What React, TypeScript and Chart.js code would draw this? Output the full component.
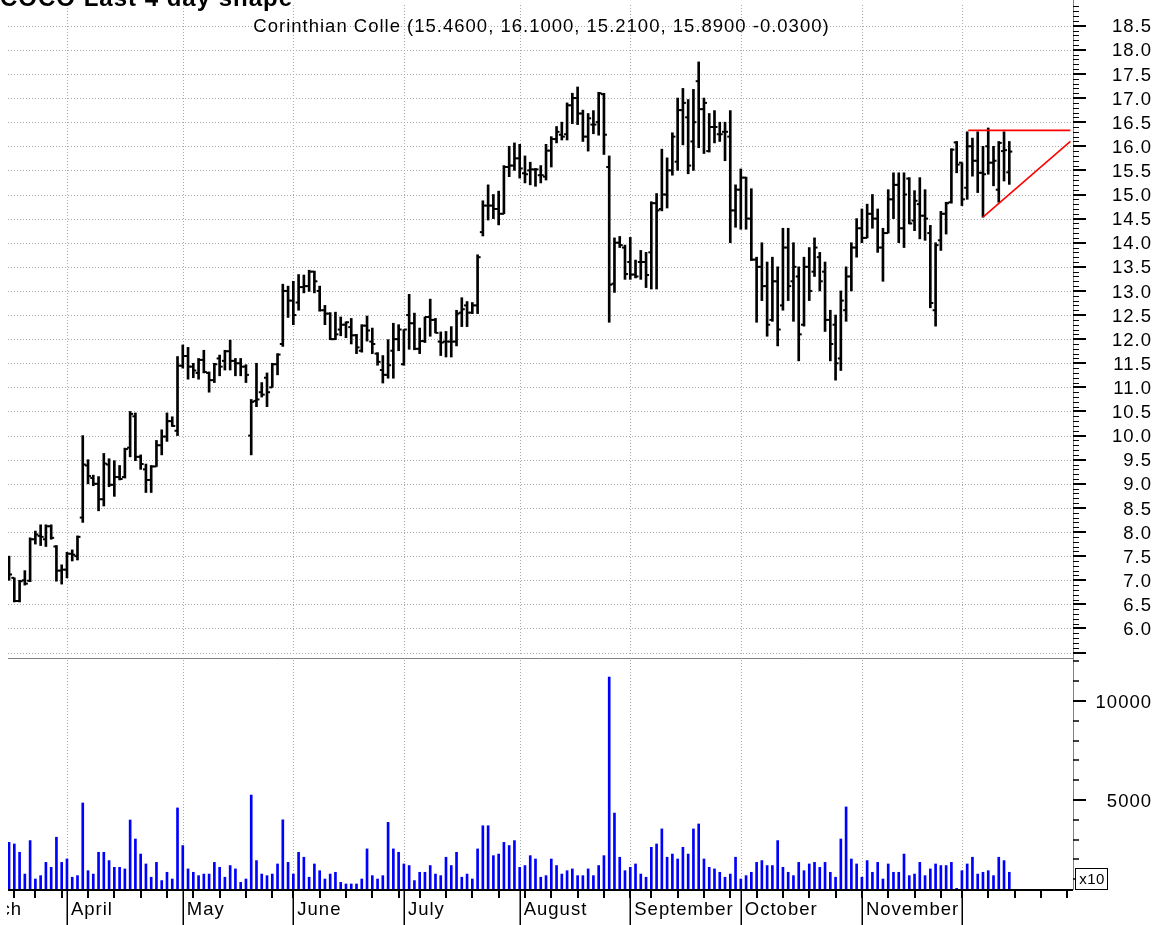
import React, { useEffect, useRef } from 'react';
import { Chart, registerables } from 'chart.js';

Chart.register(...registerables);

const FONT_FAMILY = '"Liberation Sans", Arial, Helvetica, sans-serif';

const titleText = 'COCO Last 4 day shape';
const subtitleText = 'Corinthian Colle (15.4600, 16.1000, 15.2100, 15.8900 -0.0300)';

// trading day index 0 = 2008-03-14 ... 190 = 2008-12-12
const opens = [
  7.40, 7.05, 6.57, 7.00, 6.99, 7.85, 7.92, 7.85, 8.12, 7.70,
  7.20, 7.22, 7.55, 7.50, 8.30, 9.38, 9.12, 9.00, 8.68, 9.40,
  8.98, 9.14, 9.14, 9.75, 10.40, 9.56, 9.30, 9.08, 9.36, 9.80,
  9.98, 10.30, 10.10, 11.45, 11.65, 11.43, 11.30, 11.57, 11.30, 11.15,
  11.60, 11.55, 11.75, 11.55, 11.50, 11.43, 10.00, 10.72, 10.90, 11.20,
  11.00, 11.48, 11.90, 13.00, 12.80, 12.76, 13.08, 13.10, 13.40, 13.00,
  12.60, 12.53, 12.00, 12.20, 12.30, 12.25, 12.08, 11.76, 12.28, 11.95,
  11.70, 11.36, 11.26, 11.76, 12.00, 11.48, 12.50, 12.33, 11.80, 11.96,
  12.46, 12.40, 11.95, 11.95, 11.95, 11.95, 12.55, 12.70, 12.55, 12.70,
  14.22, 14.77, 14.77, 14.70, 14.60, 15.57, 15.60, 15.75, 15.44, 15.50,
  15.52, 15.40, 15.37, 15.91, 16.15, 16.24, 16.25, 16.85, 17.00, 16.68,
  16.20, 16.45, 16.50, 17.08, 15.57, 13.15, 14.00, 13.90, 13.60, 13.34,
  13.60, 13.60, 13.80, 14.82, 14.70, 15.00, 15.50, 15.68, 16.75, 16.60,
  16.10, 17.35, 16.77, 15.90, 16.40, 16.25, 16.30, 16.20, 14.67, 15.10,
  15.35, 14.50, 13.65, 13.50, 13.10, 12.40, 13.20, 12.70, 13.90, 13.20,
  13.30, 12.30, 13.50, 13.40, 13.70, 13.40, 12.40, 12.30, 11.60, 12.60,
  13.30, 13.90, 14.30, 14.10, 14.60, 14.50, 13.90, 14.20, 14.90, 15.20,
  14.30, 15.33, 14.46, 14.80, 14.56, 14.20, 12.60, 14.05, 14.60, 14.84,
  16.08, 15.66, 15.14, 16.00, 15.70, 15.45, 16.00, 15.66, 15.10, 15.90,
  15.46,
];

const highs = [
  7.50, 7.05, 7.00, 7.20, 7.88, 8.02, 8.15, 8.15, 8.15, 7.72,
  7.32, 7.58, 7.63, 7.92, 10.00, 9.50, 9.18, 9.15, 9.63, 9.52,
  9.48, 9.38, 9.74, 10.50, 10.47, 9.60, 9.41, 9.38, 9.90, 10.12,
  10.47, 10.39, 11.64, 11.88, 11.83, 11.50, 11.60, 11.77, 11.32, 11.50,
  11.67, 11.77, 11.98, 11.60, 11.60, 11.47, 10.75, 11.50, 11.10, 11.30,
  11.50, 11.70, 13.14, 13.10, 13.20, 13.34, 13.33, 13.43, 13.41, 13.10,
  12.70, 12.55, 12.56, 12.46, 12.36, 12.43, 12.10, 12.30, 12.48, 12.23,
  11.72, 11.66, 11.99, 12.33, 12.30, 12.20, 12.93, 12.54, 12.23, 12.46,
  12.83, 12.43, 12.15, 12.16, 12.26, 12.60, 12.86, 12.78, 12.76, 13.75,
  14.87, 15.20, 15.00, 15.07, 15.60, 16.00, 16.07, 16.04, 15.80, 15.67,
  15.54, 15.60, 16.04, 16.20, 16.41, 16.50, 16.90, 17.10, 17.23, 16.75,
  16.68, 16.74, 17.12, 17.10, 15.80, 14.10, 14.13, 13.95, 14.11, 13.64,
  13.84, 13.80, 14.85, 15.02, 15.94, 15.76, 16.28, 17.00, 17.20, 16.97,
  17.18, 17.75, 17.00, 16.68, 16.74, 16.50, 16.50, 16.74, 15.20, 15.53,
  15.36, 15.12, 13.70, 14.00, 13.60, 13.70, 13.50, 14.30, 14.30, 14.00,
  13.50, 13.70, 13.90, 14.10, 13.80, 13.60, 12.60, 12.50, 13.00, 13.50,
  14.00, 14.50, 14.70, 14.80, 15.00, 14.70, 14.30, 15.10, 15.45, 15.45,
  15.45, 15.35, 15.08, 15.35, 15.10, 14.36, 14.00, 14.65, 14.84, 15.95,
  16.10, 15.66, 16.30, 16.17, 16.30, 16.00, 16.38, 16.00, 16.10, 16.30,
  16.10,
];

const lows = [
  7.00, 6.55, 6.55, 6.90, 6.97, 7.75, 7.72, 7.70, 7.85, 6.98,
  6.92, 7.05, 7.40, 7.42, 8.20, 9.00, 8.96, 8.44, 8.54, 8.94,
  8.74, 9.08, 9.12, 9.56, 9.48, 9.30, 8.82, 8.82, 9.36, 9.60,
  9.88, 10.19, 10.00, 11.40, 11.17, 11.20, 11.17, 11.30, 10.90, 11.10,
  11.24, 11.36, 11.36, 11.24, 11.24, 11.10, 9.60, 10.60, 10.80, 10.60,
  11.00, 11.26, 11.85, 12.45, 12.30, 12.60, 12.96, 12.99, 12.96, 12.58,
  12.30, 11.99, 11.99, 12.07, 12.03, 11.90, 11.70, 11.73, 11.96, 11.70,
  11.46, 11.09, 11.19, 11.19, 11.76, 11.46, 11.79, 11.78, 11.70, 11.93,
  12.06, 12.13, 11.66, 11.63, 11.63, 11.86, 12.26, 12.26, 12.53, 12.53,
  14.14, 14.47, 14.50, 14.37, 14.60, 15.37, 15.50, 15.34, 15.24, 15.20,
  15.17, 15.24, 15.30, 15.57, 16.07, 16.13, 16.13, 16.47, 16.45, 16.10,
  15.90, 16.26, 16.23, 15.83, 12.35, 12.97, 13.90, 13.24, 13.24, 13.27,
  13.24, 13.07, 13.04, 13.04, 14.66, 14.72, 15.40, 15.50, 16.03, 15.43,
  15.50, 15.97, 15.85, 15.88, 16.07, 16.10, 15.70, 14.00, 14.32, 14.28,
  14.28, 13.63, 12.35, 12.80, 12.06, 12.37, 11.86, 12.60, 12.80, 12.37,
  11.55, 12.27, 12.80, 13.30, 13.00, 12.16, 11.55, 11.15, 11.35, 12.37,
  13.00, 13.70, 14.00, 14.10, 14.30, 13.80, 13.20, 14.20, 14.50, 14.00,
  13.90, 14.39, 14.25, 14.08, 14.05, 12.65, 12.27, 13.84, 14.18, 14.82,
  15.45, 14.77, 14.90, 15.38, 15.04, 14.53, 15.42, 15.18, 14.84, 15.28,
  15.21,
];

const closes = [
  7.12, 6.57, 6.98, 6.93, 7.85, 7.95, 7.90, 8.12, 7.88, 7.20,
  7.22, 7.55, 7.53, 7.90, 9.40, 9.16, 9.00, 8.68, 9.42, 8.98,
  9.14, 9.10, 9.72, 10.45, 9.56, 9.41, 9.08, 9.36, 9.80, 9.98,
  10.30, 10.20, 11.45, 11.65, 11.43, 11.35, 11.57, 11.32, 11.15, 11.48,
  11.43, 11.75, 11.55, 11.50, 11.43, 11.26, 10.70, 10.75, 10.85, 10.90,
  11.48, 11.68, 13.00, 12.80, 12.50, 13.08, 13.10, 13.40, 13.20, 12.60,
  12.53, 12.00, 12.10, 12.30, 12.35, 12.08, 11.83, 12.28, 12.18, 11.90,
  11.53, 11.26, 11.46, 12.00, 12.20, 12.20, 12.33, 11.80, 11.96, 12.46,
  12.40, 12.13, 11.93, 11.95, 11.95, 12.53, 12.62, 12.55, 12.70, 13.70,
  14.77, 14.77, 14.70, 14.60, 15.57, 15.60, 15.75, 15.54, 15.42, 15.52,
  15.52, 15.40, 15.91, 16.15, 16.30, 16.20, 16.85, 17.00, 16.68, 16.20,
  16.58, 16.45, 17.10, 16.24, 13.13, 14.00, 13.95, 13.35, 13.34, 13.30,
  13.60, 13.33, 14.82, 14.67, 15.00, 15.50, 16.20, 16.75, 16.90, 15.60,
  16.50, 16.77, 16.90, 16.40, 16.40, 16.25, 16.30, 14.67, 15.10, 15.35,
  14.50, 13.65, 13.50, 13.10, 12.30, 13.20, 12.20, 13.90, 13.10, 13.50,
  12.10, 13.50, 13.00, 13.90, 13.20, 12.40, 11.90, 11.50, 12.80, 13.30,
  13.90, 14.30, 14.10, 14.60, 14.50, 13.90, 14.20, 14.90, 15.20, 14.30,
  15.00, 14.40, 14.87, 14.56, 14.50, 12.75, 13.95, 14.60, 14.82, 15.93,
  15.62, 14.90, 16.00, 15.70, 15.45, 15.42, 15.66, 15.70, 16.07, 15.92,
  15.89,
];

const volumes = [
  2860, 2780, 2360, 1260, 2950, 1010, 1180, 1850, 1600, 3120,
  1850, 2020, 1100, 1180, 4850, 1430, 1260, 2360, 2360, 1940,
  1600, 1600, 1520, 3990, 3030, 2270, 1770, 1100, 1850, 930,
  1350, 1010, 4600, 2700, 1520, 1350, 1180, 1260, 1260, 1850,
  1600, 1100, 1690, 1520, 840, 1010, 5250, 1940, 1260, 1180,
  1260, 1770, 4000, 1850, 1260, 2360, 2110, 1100, 1770, 1430,
  1010, 1260, 1350, 840, 760, 760, 760, 1010, 2530, 1180,
  1010, 1180, 3870, 2530, 2360, 1770, 1690, 930, 1350, 1350,
  1690, 1260, 1180, 2110, 1690, 2360, 1100, 1260, 1010, 2530,
  3700, 3700, 2190, 2270, 2860, 2700, 2950, 1600, 1690, 2190,
  2020, 1100, 1180, 2020, 1690, 1260, 1430, 1520, 1180, 1180,
  1520, 1180, 1690, 2190, 11210, 4340, 2110, 1430, 1600, 1770,
  1260, 1100, 2610, 2780, 3540, 2110, 2270, 2020, 2610, 2270,
  3540, 3790, 2020, 1600, 1520, 1350, 1100, 1260, 2110, 1010,
  1180, 1350, 1850, 1940, 1690, 1690, 2950, 1600, 1350, 1180,
  1850, 1430, 1770, 1850, 1600, 1850, 1350, 1100, 3030, 4650,
  2020, 1770, 1100, 1940, 1350, 1850, 1010, 1770, 1350, 1350,
  2270, 1180, 1260, 1850, 1180, 1520, 1770, 1690, 1690, 1850,
  540, 1430, 1770, 2110, 1260, 1350, 1430, 1180, 2110, 1940,
  1350,
];

const monthLabels = ['March', 'April', 'May', 'June', 'July', 'August', 'September', 'October', 'November', ''];
const monthStartIndex = [-9, 11, 33, 54, 75, 97, 118, 139, 162, 181];
const weekStartIndex = [
  1, 5, 10, 15, 20, 25, 30, 35, 40, 45, 50, 54, 59, 64, 69, 74, 78, 83, 88, 93,
  98, 103, 108, 113, 118, 122, 127, 132, 137, 142, 147, 152, 157, 162, 167, 172,
  177, 181, 186, 191, 196, 201,
];

const priceTickLabels = [
  '6.0', '6.5', '7.0', '7.5', '8.0', '8.5', '9.0', '9.5', '10.0', '10.5', '11.0',
  '11.5', '12.0', '12.5', '13.0', '13.5', '14.0', '14.5', '15.0', '15.5', '16.0',
  '16.5', '17.0', '17.5', '18.0', '18.5',
];
const volumeTickLabels = ['5000', '10000'];

const resistanceLine = [{ x: 182.2, y: 16.33 }, { x: 201.6, y: 16.33 }];
const supportLine = [{ x: 185, y: 14.53 }, { x: 201.6, y: 16.1 }];

const X_MIN = -0.2;
const X_MAX = 202.1;
const PRICE_MIN = 5.45;
const PRICE_MAX = 18.93;
const VOL_MIN = 455;
const VOL_MAX = 12070;

const GRID_COLOR = '#a8a8a8';
const AXIS_COLOR = '#808080';

function line(ctx: CanvasRenderingContext2D, x1: number, y1: number, x2: number, y2: number) {
  ctx.beginPath();
  ctx.moveTo(x1, y1);
  ctx.lineTo(x2, y2);
  ctx.stroke();
}

const priceDecor = {
  id: 'priceDecor',
  beforeDatasetsDraw(chart: any) {
    const { ctx, chartArea, scales } = chart;
    const { left, right, top, bottom } = chartArea;
    ctx.save();
    ctx.strokeStyle = GRID_COLOR;
    ctx.lineWidth = 1;
    ctx.setLineDash([1, 2]);
    for (let k = 11; k <= 37; k++) {
      const py = Math.round(scales.y.getPixelForValue(k / 2)) + 0.5;
      line(ctx, left, py, right, py);
    }
    for (const mi of monthStartIndex) {
      const px = Math.round(scales.x.getPixelForValue(mi)) + 0.5;
      if (px < left || px > right) continue;
      line(ctx, px, top, px, bottom);
    }
    ctx.restore();
  },
  afterDraw(chart: any) {
    const { ctx, chartArea, scales, canvas } = chart;
    const { left, right } = chartArea;
    ctx.save();
    ctx.setLineDash([]);
    ctx.strokeStyle = AXIS_COLOR;
    ctx.lineWidth = 1;
    line(ctx, left, 658.5, right, 658.5);
    line(ctx, right + 0.5, 0, right + 0.5, canvas.height);
    ctx.strokeStyle = '#000';
    for (let m = 55; m <= 189; m++) {
      const py = scales.y.getPixelForValue(m / 10);
      const major = m % 5 === 0;
      ctx.lineWidth = major ? 2 : 1;
      const yy = major ? Math.round(py) : Math.round(py) + 0.5;
      line(ctx, right, yy, right + (major ? 13 : 6), yy);
    }
    ctx.fillStyle = '#000';
    ctx.font = `18.5px ${FONT_FAMILY}`;
    (ctx as any).letterSpacing = '1px';
    ctx.textAlign = 'right';
    ctx.textBaseline = 'middle';
    for (const lab of priceTickLabels) {
      ctx.fillText(lab, 1152, scales.y.getPixelForValue(parseFloat(lab)) + 1.5);
    }
    ctx.textAlign = 'center';
    ctx.textBaseline = 'alphabetic';
    ctx.fillText(subtitleText, (left + right) / 2 + 1, 32);
    ctx.font = `bold 24px ${FONT_FAMILY}`;
    ctx.textAlign = 'left';
    ctx.fillText(titleText, 0, 6);
    ctx.restore();
  },
};

const volumeDecor = {
  id: 'volumeDecor',
  beforeDatasetsDraw(chart: any) {
    const { ctx, chartArea, scales } = chart;
    const { left, right, top, bottom } = chartArea;
    ctx.save();
    ctx.strokeStyle = GRID_COLOR;
    ctx.lineWidth = 1;
    ctx.setLineDash([1, 2]);
    for (const mi of monthStartIndex) {
      const px = Math.round(scales.x.getPixelForValue(mi)) + 0.5;
      if (px < left || px > right) continue;
      line(ctx, px, top, px, bottom);
    }
    ctx.restore();
  },
  afterDraw(chart: any) {
    const { ctx, chartArea, scales, canvas } = chart;
    const { left, right, bottom } = chartArea;
    ctx.save();
    ctx.setLineDash([]);
    ctx.strokeStyle = AXIS_COLOR;
    ctx.lineWidth = 1;
    line(ctx, right + 0.5, 0, right + 0.5, bottom);
    ctx.strokeStyle = '#000';
    ctx.lineWidth = 2;
    line(ctx, left, bottom, right, bottom);
    for (const wi of weekStartIndex) {
      const px = Math.round(scales.x.getPixelForValue(wi));
      line(ctx, px, bottom, px, bottom + 8);
    }
    ctx.lineWidth = 1.5;
    for (const mi of monthStartIndex) {
      const px = Math.round(scales.x.getPixelForValue(mi)) + 0.25;
      if (px < left || px > right) continue;
      line(ctx, px, bottom, px, canvas.height);
    }
    for (let v = 1000; v <= 12000; v += 1000) {
      const major = v % 5000 === 0;
      const py = scales.y.getPixelForValue(v);
      ctx.lineWidth = major ? 2 : 1.5;
      const yy = Math.round(py);
      line(ctx, right, yy, right + (major ? 13 : 6), yy);
    }
    ctx.fillStyle = '#000';
    ctx.font = `18.5px ${FONT_FAMILY}`;
    (ctx as any).letterSpacing = '1px';
    ctx.textAlign = 'right';
    ctx.textBaseline = 'middle';
    for (const lab of volumeTickLabels) {
      ctx.fillText(lab, 1152, scales.y.getPixelForValue(parseFloat(lab)) + 1.5);
    }
    // x10 multiplier box
    ctx.lineWidth = 1;
    ctx.fillStyle = '#fff';
    ctx.fillRect(1075.5, 208.5, 32, 21);
    ctx.fillStyle = '#000';
    ctx.strokeRect(1075.5, 208.5, 32, 21);
    ctx.font = `15px ${FONT_FAMILY}`;
    (ctx as any).letterSpacing = '0.5px';
    ctx.textAlign = 'center';
    ctx.fillText('x10', 1092, 220);
    // month labels
    ctx.save();
    ctx.beginPath();
    ctx.rect(left - 1, bottom + 2, canvas.width, canvas.height);
    ctx.clip();
    ctx.font = `18.5px ${FONT_FAMILY}`;
    (ctx as any).letterSpacing = '1px';
    ctx.textAlign = 'left';
    ctx.textBaseline = 'alphabetic';
    monthStartIndex.forEach((mi, k) => {
      const label = monthLabels[k];
      if (!label) return;
      const px = scales.x.getPixelForValue(mi);
      ctx.fillText(label, px + 4, 255);
    });
    ctx.restore();
    ctx.restore();
  },
};

export default function App() {
  const priceRef = useRef<HTMLCanvasElement>(null);
  const volRef = useRef<HTMLCanvasElement>(null);

  useEffect(() => {
    const idx = closes.map((_, i) => i);
    const priceChart = new Chart(priceRef.current as HTMLCanvasElement, {
      type: 'bar',
      data: {
        datasets: [
          {
            type: 'bar',
            data: idx.map((i) => ({ x: i, y: [lows[i], highs[i]] })) as any,
            backgroundColor: '#000',
            borderWidth: 0,
            barThickness: 2,
            order: 3,
          } as any,
          {
            type: 'scatter',
            data: idx.map((i) => ({ x: i, y: opens[i] })),
            pointStyle: 'dash',
            pointRotation: 180,
            pointRadius: 3,
            pointHoverRadius: 3,
            pointBorderWidth: 2,
            pointBorderColor: '#000',
            pointBackgroundColor: '#000',
            order: 2,
          } as any,
          {
            type: 'scatter',
            data: idx.map((i) => ({ x: i, y: closes[i] })),
            pointStyle: 'dash',
            pointRotation: 0,
            pointRadius: 3,
            pointHoverRadius: 3,
            pointBorderWidth: 2,
            pointBorderColor: '#000',
            pointBackgroundColor: '#000',
            order: 2,
          } as any,
          {
            type: 'line',
            data: resistanceLine,
            borderColor: '#ff0000',
            borderWidth: 1.6,
            pointRadius: 0,
            fill: false,
            order: 1,
          } as any,
          {
            type: 'line',
            data: supportLine,
            borderColor: '#ff0000',
            borderWidth: 1.6,
            pointRadius: 0,
            fill: false,
            order: 1,
          } as any,
        ],
      },
      options: {
        animation: false,
        responsive: false,
        maintainAspectRatio: false,
        events: [],
        layout: { padding: { left: 8, right: 93, top: 0, bottom: 2 } },
        plugins: { legend: { display: false }, tooltip: { enabled: false } },
        scales: {
          x: { type: 'linear', min: X_MIN, max: X_MAX, display: false, offset: false },
          y: { type: 'linear', min: PRICE_MIN, max: PRICE_MAX, display: false },
        },
      } as any,
      plugins: [priceDecor],
    });

    const volChart = new Chart(volRef.current as HTMLCanvasElement, {
      type: 'bar',
      data: {
        datasets: [
          {
            data: idx.map((i) => ({ x: i, y: volumes[i] })) as any,
            backgroundColor: '#0000ff',
            borderWidth: 0,
            barThickness: 2,
            base: VOL_MIN,
          } as any,
        ],
      },
      options: {
        animation: false,
        responsive: false,
        maintainAspectRatio: false,
        events: [],
        layout: { padding: { left: 8, right: 93, top: 0, bottom: 35 } },
        plugins: { legend: { display: false }, tooltip: { enabled: false } },
        scales: {
          x: { type: 'linear', min: X_MIN, max: X_MAX, display: false, offset: false },
          y: { type: 'linear', min: VOL_MIN, max: VOL_MAX, display: false },
        },
      } as any,
      plugins: [volumeDecor],
    });

    return () => {
      priceChart.destroy();
      volChart.destroy();
    };
  }, []);

  return (
    <div style={{ position: 'absolute', left: 0, top: 0, width: 1166, height: 925, background: '#fff' }}>
      <canvas ref={priceRef} width={1166} height={660} style={{ position: 'absolute', left: 0, top: 0 }} />
      <canvas ref={volRef} width={1166} height={265} style={{ position: 'absolute', left: 0, top: 660 }} />
    </div>
  );
}
